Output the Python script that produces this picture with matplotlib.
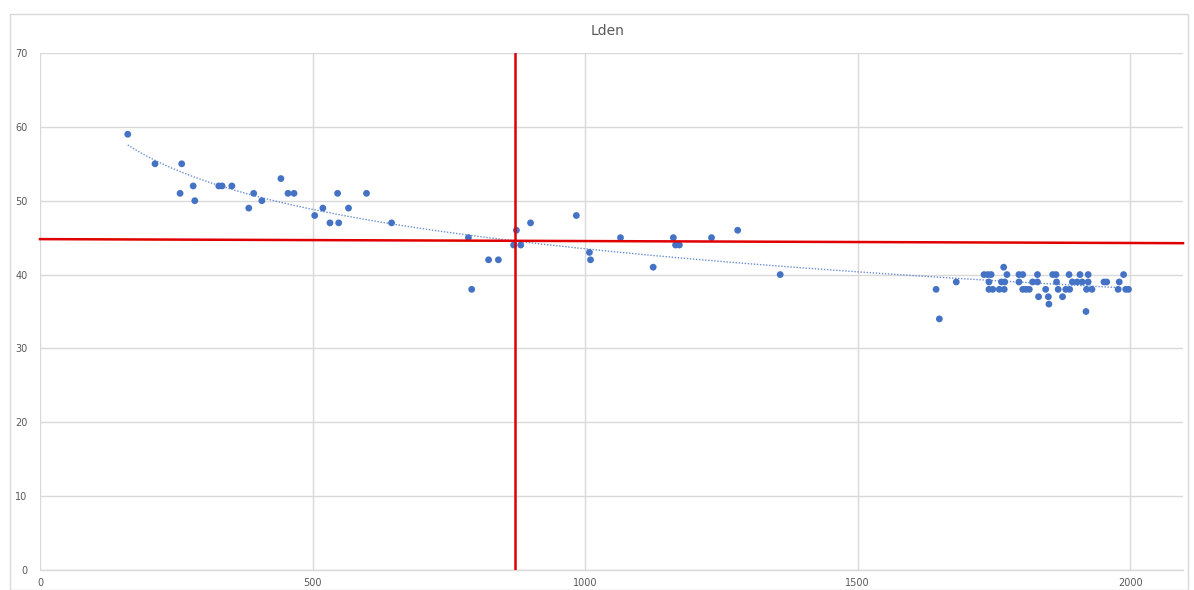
import numpy as np
import matplotlib
matplotlib.use("Agg")
import matplotlib.pyplot as plt
from matplotlib.patches import Rectangle

title = "Lden"

distance = [161, 211, 260, 257, 281, 284, 328, 334, 352, 383, 392, 407, 442, 455, 466,
            504, 519, 532, 546, 548, 566, 599, 645, 786, 792, 823, 841, 869, 874, 882,
            900, 984, 1008, 1010, 1065, 1125, 1162, 1166, 1173, 1232, 1280, 1358,
            1644, 1650, 1681, 1732, 1739, 1745, 1741, 1741, 1748, 1768, 1774, 1764, 1770,
            1760, 1769, 1796, 1803, 1796, 1803, 1809, 1821, 1830, 1830, 1815, 1845, 1832,
            1850, 1851, 1858, 1864, 1865, 1868, 1882, 1889, 1876, 1888, 1894, 1903, 1912,
            1923, 1908, 1923, 1920, 1930, 1919, 1952, 1957, 1978, 1980, 1988, 1992, 1997]
lden = [59, 55, 55, 51, 52, 50, 52, 52, 52, 49, 51, 50, 53, 51, 51,
        48, 49, 47, 51, 47, 49, 51, 47, 45, 38, 42, 42, 44, 46, 44,
        47, 48, 43, 42, 45, 41, 45, 44, 44, 45, 46, 40,
        38, 34, 39, 40, 40, 40, 39, 38, 38, 41, 40, 39, 39,
        38, 38, 40, 40, 39, 38, 38, 39, 40, 39, 38, 38, 37,
        37, 36, 40, 40, 39, 38, 38, 38, 37, 40, 39, 39, 39,
        39, 40, 40, 38, 38, 35, 39, 39, 38, 39, 40, 38, 38]

hline_x = [0, 2097]
hline_y = [44.8, 44.25]
vline_x = 871

x_ticks = [0, 500, 1000, 1500, 2000]
y_ticks = [0, 10, 20, 30, 40, 50, 60, 70]

blue = "#4472C4"
grid = "#D9D9D9"
txt = "#595959"

fig = plt.figure(figsize=(11.94, 5.90), dpi=100)
fig.add_artist(Rectangle((10 / 1194, 0.0), 1178 / 1194, 1 - 14 / 590,
                         transform=fig.transFigure, fill=False,
                         edgecolor="#D9D9D9", linewidth=1.0))
ax = fig.add_axes([40 / 1194, 1 - 570 / 590, 1143 / 1194, 517 / 590])

ax.set_xlim(0, 2097)
ax.set_ylim(0, 70)
ax.set_xticks(x_ticks)
ax.set_yticks(y_ticks)
ax.grid(True, color=grid, linewidth=1.0, zorder=0)
for side in ["top", "right", "left"]:
    ax.spines[side].set_visible(False)
ax.spines["bottom"].set_color(grid)
ax.spines["bottom"].set_linewidth(1.0)
ax.tick_params(axis="both", length=0, labelsize=7, labelcolor=txt)
ax.tick_params(axis="y", pad=9)
ax.tick_params(axis="x", pad=6)

x = np.array(distance, dtype=float)
y = np.array(lden, dtype=float)
ax.scatter(x, y, s=24, color=blue, edgecolors="none", zorder=4)

# logarithmic trendline
b, a = np.polyfit(np.log(x), y, 1)
xt = np.linspace(x.min(), x.max(), 300)
ax.plot(xt, a + b * np.log(xt), linestyle=(0, (1, 1.2)), color=blue,
        linewidth=1.0, alpha=0.8, zorder=3)

ax.plot(hline_x, hline_y, color="#E00000", linewidth=1.8, zorder=5, clip_on=False)
ax.plot([vline_x, vline_x], [0, 70], color="#E00000", linewidth=1.8, zorder=5)

fig.text(608 / 1194, 1 - 31 / 590, title, ha="center", va="center",
         fontsize=10, color=txt)

fig.savefig("out.png", dpi=100)
